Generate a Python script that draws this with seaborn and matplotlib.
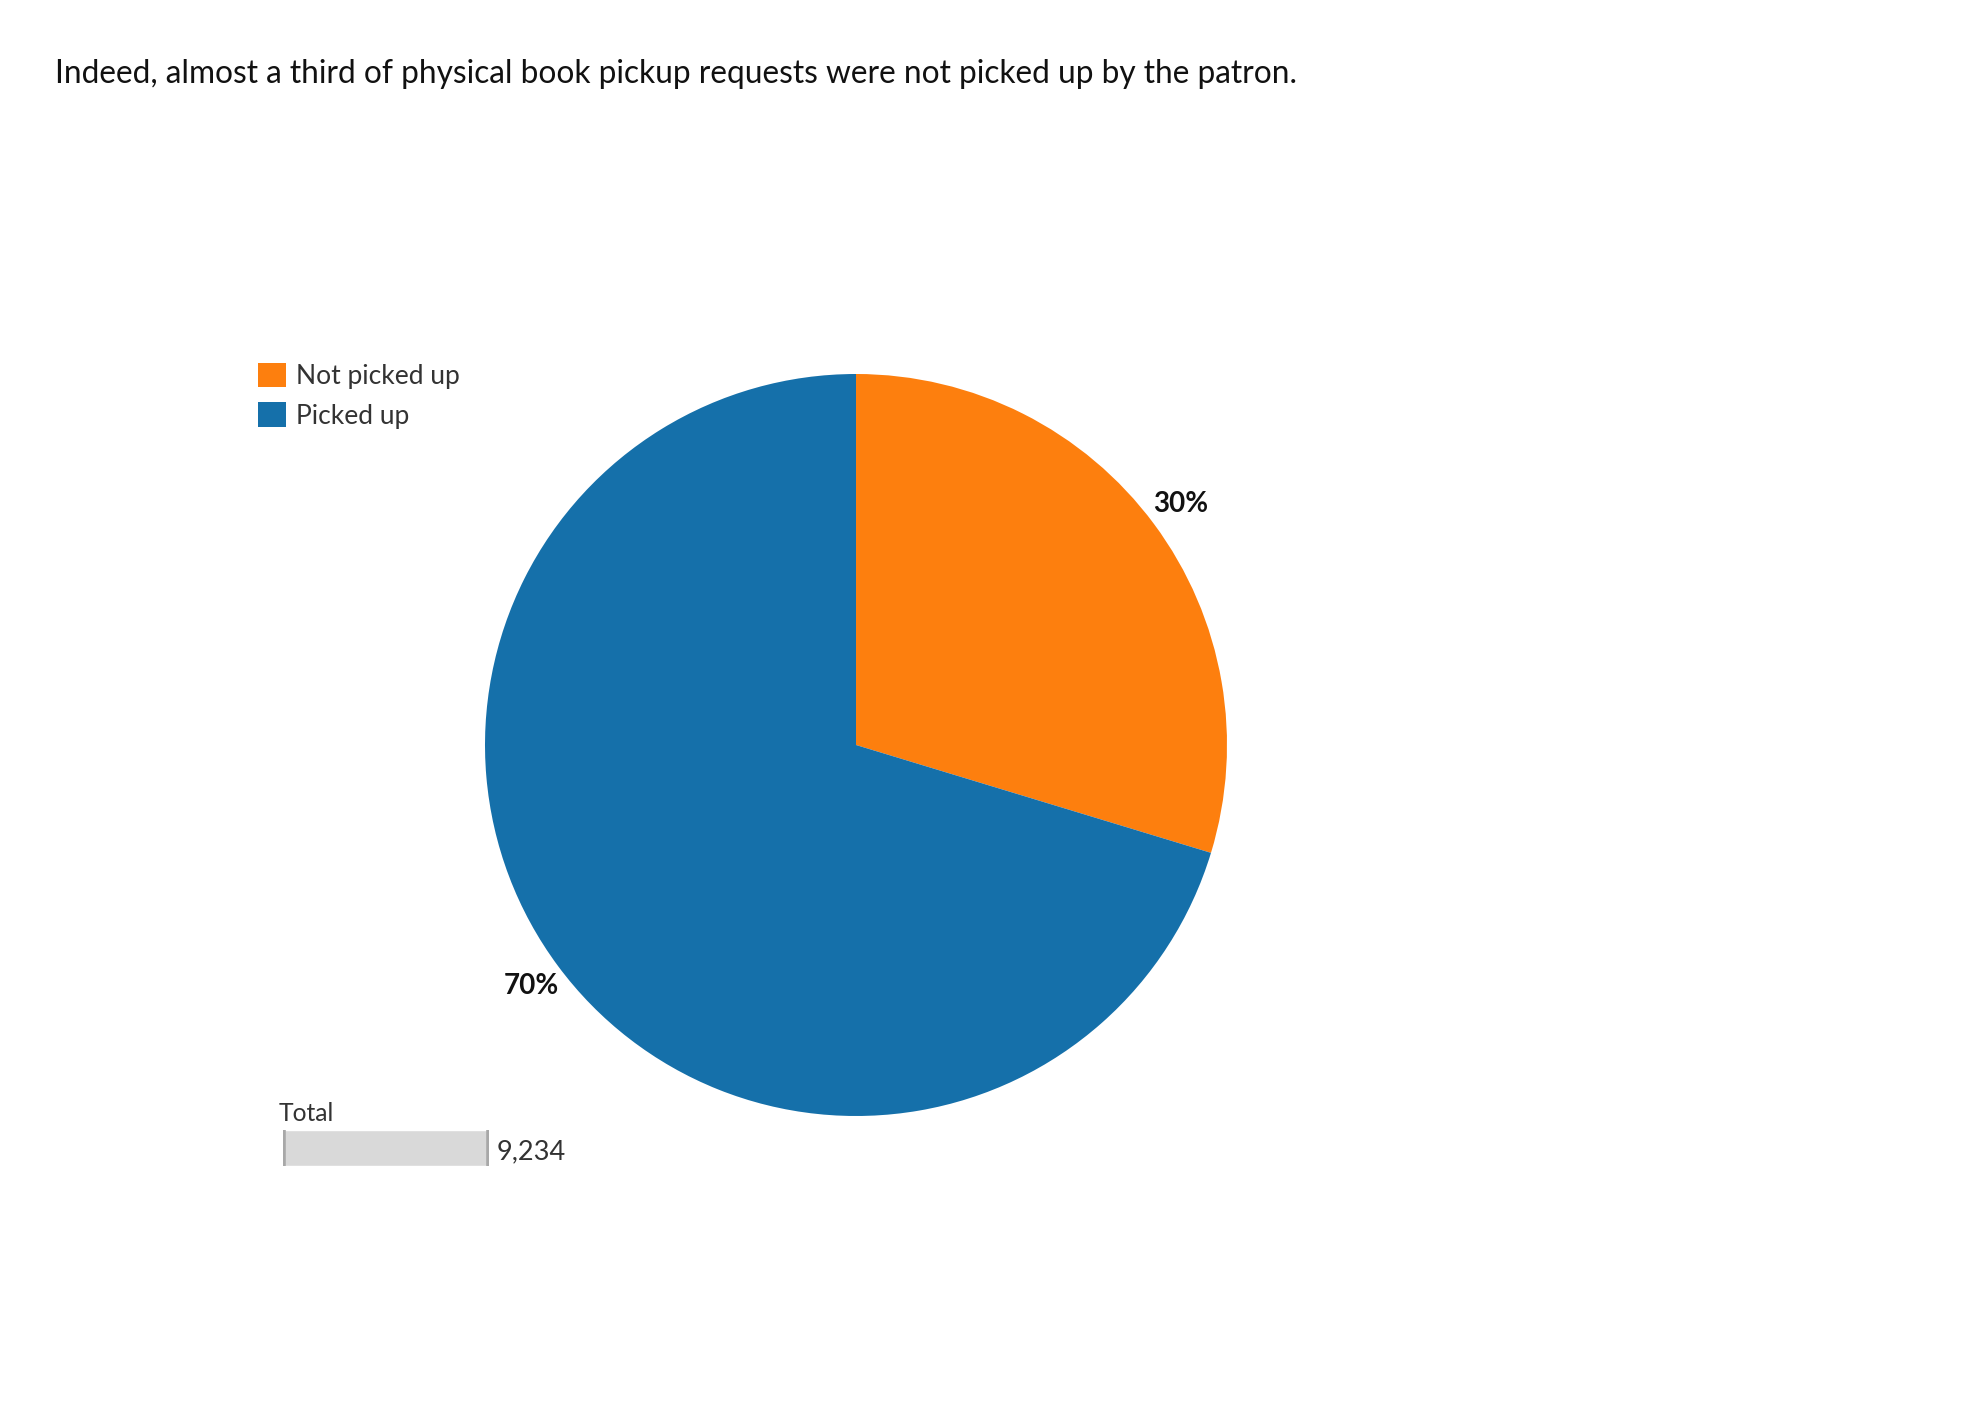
import matplotlib.pyplot as plt
import seaborn as sns
from matplotlib.patches import Patch

# Data
categories = ['Not picked up', 'Picked up']
counts = [2742, 6492]
colors = ['#fd7f0e', '#1570aa']
total_label = 'Total'
title = 'Indeed, almost a third of physical book pickup requests were not picked up by the patron.'

total = sum(counts)

sns.set_theme(style='white')
plt.rcParams['font.family'] = ['Lato', 'DejaVu Sans']

W, H = 1976, 1420
fig = plt.figure(figsize=(W / 100, H / 100), dpi=100)

# Pie: circle spans x 485..1227, y 374..1116 (pixels from top)
ax = fig.add_axes([485 / W, 1 - 1116 / H, 742 / W, 742 / H])
ax.pie(counts, colors=colors, startangle=90, counterclock=False,
       autopct='%.0f%%', pctdistance=1.09,
       wedgeprops=dict(linewidth=0),
       textprops=dict(fontsize=20, fontweight='bold', color='#111111'))
ax.set_xlim(-1, 1)
ax.set_ylim(-1, 1)
ax.set_aspect('equal')
ax.axis('off')

# Title
fig.text(55 / W, 1 - 83 / H, title, fontsize=22.8, color='#111111',
         ha='left', va='baseline')

# Legend
handles = [Patch(facecolor=c, edgecolor='none', label=l) for c, l in zip(colors, categories)]
fig.legend(handles=handles, loc='upper left',
           bbox_to_anchor=(258 / W, 1 - 363 / H), bbox_transform=fig.transFigure,
           frameon=False, fontsize=19, labelcolor='#333333',
           handlelength=1.05, handleheight=1.05, handletextpad=0.4,
           labelspacing=0.5, borderpad=0, borderaxespad=0)

# Total bar
fig.text(279 / W, 1 - 1121 / H, total_label, fontsize=17.7, color='#333333',
         ha='left', va='baseline')
bax = fig.add_axes([283 / W, 1 - 1166 / H, 206 / W, 36 / H])
sns.barplot(x=[total], y=[total_label], orient='h', color='#d9d9d9',
            width=1, saturation=1, ax=bax)
bax.axvline(0, color='#a8a8a8', lw=4)
bax.axvline(total, color='#a8a8a8', lw=4)
bax.set_xlim(0, total)
bax.set_ylim(0.5, -0.5)
bax.axis('off')
fig.text(497 / W, 1 - 1159 / H, f'{total:,}', fontsize=19.5, color='#333333',
         ha='left', va='baseline')

fig.savefig('out.png', dpi=100, facecolor='white')
